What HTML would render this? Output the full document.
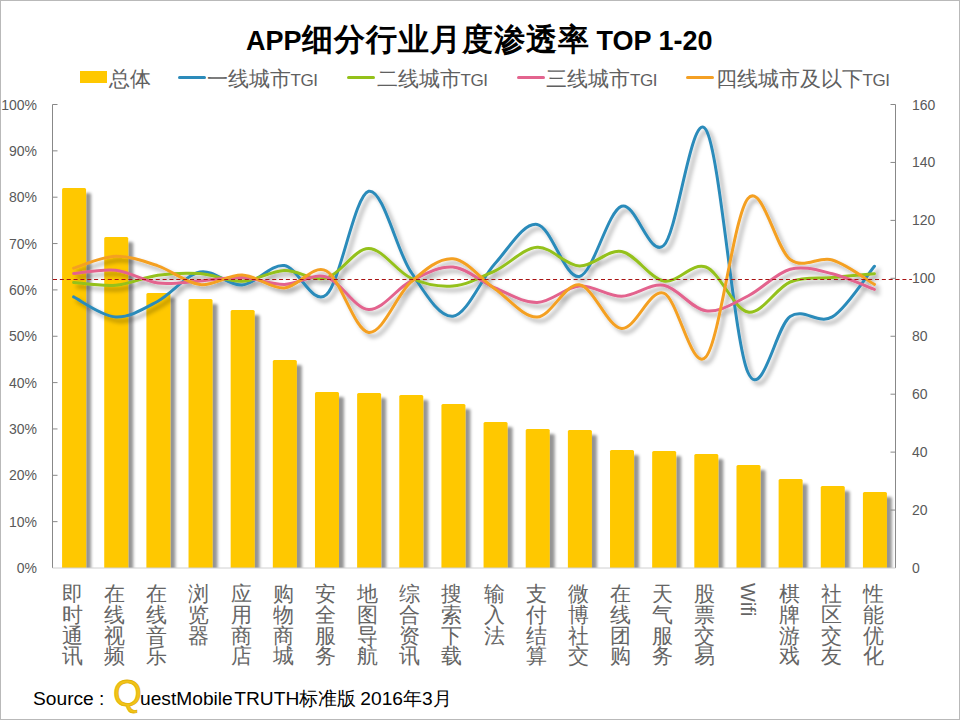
<!DOCTYPE html>
<html><head><meta charset="utf-8">
<style>
html,body{margin:0;padding:0;background:#fff;}
body{width:960px;height:720px;position:relative;overflow:hidden;font-family:"Liberation Sans",sans-serif;}
.frame{position:absolute;left:0;top:0;width:958px;height:718px;border:1px solid #b9b9b9;}
.title{position:absolute;left:246px;top:20px;font-weight:bold;color:#000;white-space:nowrap;line-height:40px;}
.tl{font-size:27px;}
.tc{font-size:31px;letter-spacing:1px;}
.lg{position:absolute;top:65px;font-size:21px;color:#606060;white-space:nowrap;line-height:28px;}
.tg{font-size:17px;letter-spacing:-0.4px;}
.yl{position:absolute;right:923px;font-size:14px;color:#595959;line-height:16px;text-align:right;}
.yr{position:absolute;left:912px;font-size:14px;color:#595959;line-height:16px;}
.xl{position:absolute;top:584px;font-size:20.5px;line-height:20.8px;color:#656565;width:24px;text-align:center;}
.xw{position:absolute;top:583px;font-size:20px;color:#656565;writing-mode:vertical-rl;line-height:24px;font-variant-ligatures:none;}
.src{position:absolute;top:686px;font-size:19.2px;color:#000;white-space:nowrap;line-height:26px;}
.q{color:#F2C318;font-size:37px;line-height:26px;-webkit-text-stroke:0.8px #E0B000;}
svg{position:absolute;left:0;top:0;}
</style></head><body>
<div class="frame"></div>
<svg width="960" height="720" viewBox="0 0 960 720">
<defs>
<filter id="sh" x="-20%" y="-20%" width="140%" height="140%">
<feGaussianBlur in="SourceAlpha" stdDeviation="1.5"/>
<feOffset dx="4.5" dy="4.5" result="o"/>
<feFlood flood-color="#000" flood-opacity="0.42"/>
<feComposite in2="o" operator="in"/>
<feMerge><feMergeNode/><feMergeNode in="SourceGraphic"/></feMerge>
</filter>
<filter id="lsh" x="-20%" y="-20%" width="140%" height="140%">
<feGaussianBlur in="SourceAlpha" stdDeviation="2.2"/>
<feOffset dx="4" dy="4" result="o"/>
<feFlood flood-color="#000" flood-opacity="0.33"/>
<feComposite in2="o" operator="in"/>
<feMerge><feMergeNode/><feMergeNode in="SourceGraphic"/></feMerge>
</filter>
<clipPath id="pc"><rect x="0" y="0" width="960" height="568"/></clipPath>
</defs>
<g clip-path="url(#pc)"><g fill="#FFC800" filter="url(#sh)">
<path d="M62.08,568 V189.5 Q62.08,188 63.58,188 H84.58 Q86.08,188 86.08,189.5 V568 Z"/>
<path d="M104.22,568 V238.5 Q104.22,237 105.72,237 H126.72 Q128.22,237 128.22,238.5 V568 Z"/>
<path d="M146.38,568 V294.5 Q146.38,293 147.88,293 H168.88 Q170.38,293 170.38,294.5 V568 Z"/>
<path d="M188.53,568 V300.5 Q188.53,299 190.03,299 H211.03 Q212.53,299 212.53,300.5 V568 Z"/>
<path d="M230.67,568 V311.5 Q230.67,310 232.17,310 H253.17 Q254.67,310 254.67,311.5 V568 Z"/>
<path d="M272.82,568 V361.5 Q272.82,360 274.32,360 H295.32 Q296.82,360 296.82,361.5 V568 Z"/>
<path d="M314.97,568 V393.5 Q314.97,392 316.47,392 H337.47 Q338.97,392 338.97,393.5 V568 Z"/>
<path d="M357.12,568 V394.5 Q357.12,393 358.62,393 H379.62 Q381.12,393 381.12,394.5 V568 Z"/>
<path d="M399.27,568 V396.5 Q399.27,395 400.77,395 H421.77 Q423.27,395 423.27,396.5 V568 Z"/>
<path d="M441.43,568 V405.5 Q441.43,404 442.93,404 H463.93 Q465.43,404 465.43,405.5 V568 Z"/>
<path d="M483.57,568 V423.5 Q483.57,422 485.07,422 H506.07 Q507.57,422 507.57,423.5 V568 Z"/>
<path d="M525.72,568 V430.5 Q525.72,429 527.22,429 H548.22 Q549.72,429 549.72,430.5 V568 Z"/>
<path d="M567.88,568 V431.5 Q567.88,430 569.38,430 H590.38 Q591.88,430 591.88,431.5 V568 Z"/>
<path d="M610.02,568 V451.5 Q610.02,450 611.52,450 H632.52 Q634.02,450 634.02,451.5 V568 Z"/>
<path d="M652.17,568 V452.5 Q652.17,451 653.67,451 H674.67 Q676.17,451 676.17,452.5 V568 Z"/>
<path d="M694.32,568 V455.5 Q694.32,454 695.82,454 H716.82 Q718.32,454 718.32,455.5 V568 Z"/>
<path d="M736.48,568 V466.5 Q736.48,465 737.98,465 H758.98 Q760.48,465 760.48,466.5 V568 Z"/>
<path d="M778.62,568 V480.5 Q778.62,479 780.12,479 H801.12 Q802.62,479 802.62,480.5 V568 Z"/>
<path d="M820.77,568 V487.5 Q820.77,486 822.27,486 H843.27 Q844.77,486 844.77,487.5 V568 Z"/>
<path d="M862.92,568 V493.5 Q862.92,492 864.42,492 H885.42 Q886.92,492 886.92,493.5 V568 Z"/>
</g></g>
<line x1="52.5" y1="104.5" x2="52.5" y2="568" stroke="#888" stroke-width="1"/>
<line x1="895.5" y1="104.5" x2="895.5" y2="568" stroke="#888" stroke-width="1"/>
<line x1="52.5" y1="568" x2="895.5" y2="568" stroke="#d0d0d0" stroke-width="1"/>
<g stroke="#888" stroke-width="1"><line x1="52.5" y1="521.65" x2="57.5" y2="521.65"/><line x1="52.5" y1="475.30" x2="57.5" y2="475.30"/><line x1="52.5" y1="428.95" x2="57.5" y2="428.95"/><line x1="52.5" y1="382.60" x2="57.5" y2="382.60"/><line x1="52.5" y1="336.25" x2="57.5" y2="336.25"/><line x1="52.5" y1="289.90" x2="57.5" y2="289.90"/><line x1="52.5" y1="243.55" x2="57.5" y2="243.55"/><line x1="52.5" y1="197.20" x2="57.5" y2="197.20"/><line x1="52.5" y1="150.85" x2="57.5" y2="150.85"/><line x1="52.5" y1="104.50" x2="57.5" y2="104.50"/><line x1="890.5" y1="510.06" x2="895.5" y2="510.06"/><line x1="890.5" y1="452.12" x2="895.5" y2="452.12"/><line x1="890.5" y1="394.19" x2="895.5" y2="394.19"/><line x1="890.5" y1="336.25" x2="895.5" y2="336.25"/><line x1="890.5" y1="278.31" x2="895.5" y2="278.31"/><line x1="890.5" y1="220.38" x2="895.5" y2="220.38"/><line x1="890.5" y1="162.44" x2="895.5" y2="162.44"/><line x1="890.5" y1="104.50" x2="895.5" y2="104.50"/></g>
<g fill="none" stroke-width="3" stroke-linecap="round" filter="url(#lsh)">
<path d="M73.58,296.90 C80.60,300.23 101.67,316.17 115.72,316.90 C129.78,317.62 143.82,308.73 157.88,301.25 C171.93,293.77 185.98,274.71 200.03,272.00 C214.07,269.29 228.12,286.07 242.17,285.00 C256.22,283.93 270.27,264.00 284.32,265.60 C298.38,267.20 312.42,306.98 326.47,294.60 C340.52,282.22 354.57,195.12 368.62,191.30 C382.68,187.48 396.72,250.88 410.77,271.70 C424.82,292.52 438.88,317.57 452.93,316.20 C466.98,314.83 481.02,278.80 495.07,263.50 C509.12,248.20 523.17,222.23 537.22,224.40 C551.27,226.57 565.33,279.52 579.38,276.50 C593.42,273.48 607.48,211.42 621.52,206.25 C635.57,201.08 649.62,258.29 663.67,245.50 C677.72,232.71 691.77,108.33 705.82,129.50 C719.88,150.67 733.92,341.33 747.98,372.50 C762.03,403.67 776.08,325.77 790.12,316.50 C804.17,307.23 818.23,325.27 832.27,316.90 C846.32,308.52 867.40,274.69 874.42,266.25" stroke="#2C8BBA"/>
<path d="M73.58,282.50 C80.60,282.96 101.67,286.47 115.72,285.25 C129.78,284.03 143.82,277.14 157.88,275.20 C171.93,273.26 185.98,272.59 200.03,273.60 C214.07,274.61 228.12,281.75 242.17,281.25 C256.22,280.75 270.27,271.14 284.32,270.60 C298.38,270.06 312.42,281.68 326.47,278.00 C340.52,274.32 354.57,248.50 368.62,248.50 C382.68,248.50 396.72,271.75 410.77,278.00 C424.82,284.25 438.88,287.20 452.93,286.00 C466.98,284.80 481.02,277.25 495.07,270.80 C509.12,264.35 523.17,248.10 537.22,247.30 C551.27,246.50 565.33,265.30 579.38,266.00 C593.42,266.70 607.48,249.00 621.52,251.50 C635.57,254.00 649.62,278.42 663.67,281.00 C677.72,283.58 691.77,261.83 705.82,267.00 C719.88,272.17 733.92,309.50 747.98,312.00 C762.03,314.50 776.08,287.75 790.12,282.00 C804.17,276.25 818.23,278.88 832.27,277.50 C846.32,276.12 867.40,274.38 874.42,273.75" stroke="#94C11A"/>
<path d="M73.58,273.50 C80.60,272.96 101.67,268.67 115.72,270.25 C129.78,271.83 143.82,281.21 157.88,283.00 C171.93,284.79 185.98,281.92 200.03,281.00 C214.07,280.08 228.12,276.93 242.17,277.50 C256.22,278.07 270.27,284.48 284.32,284.40 C298.38,284.32 312.42,272.82 326.47,277.00 C340.52,281.18 354.57,308.80 368.62,309.50 C382.68,310.20 396.72,288.28 410.77,281.20 C424.82,274.12 438.88,265.87 452.93,267.00 C466.98,268.13 481.02,282.08 495.07,288.00 C509.12,293.92 523.17,302.83 537.22,302.50 C551.27,302.17 565.33,287.04 579.38,286.00 C593.42,284.96 607.48,296.37 621.52,296.25 C635.57,296.13 649.62,282.88 663.67,285.30 C677.72,287.73 691.77,309.02 705.82,310.80 C719.88,312.58 733.92,302.93 747.98,296.00 C762.03,289.07 776.08,272.91 790.12,269.20 C804.17,265.49 818.23,270.38 832.27,273.75 C846.32,277.12 867.40,286.79 874.42,289.40" stroke="#E3648E"/>
<path d="M73.58,268.10 C80.60,266.13 101.67,256.68 115.72,256.30 C129.78,255.92 143.82,261.08 157.88,265.80 C171.93,270.52 185.98,283.07 200.03,284.60 C214.07,286.13 228.12,274.43 242.17,275.00 C256.22,275.57 270.27,288.67 284.32,288.00 C298.38,287.33 312.42,263.60 326.47,271.00 C340.52,278.40 354.57,330.53 368.62,332.40 C382.68,334.27 396.72,294.48 410.77,282.20 C424.82,269.92 438.88,257.57 452.93,258.70 C466.98,259.83 481.02,279.28 495.07,289.00 C509.12,298.72 523.17,317.70 537.22,317.00 C551.27,316.30 565.33,282.88 579.38,284.80 C593.42,286.72 607.48,327.12 621.52,328.50 C635.57,329.88 649.62,288.35 663.67,293.10 C677.72,297.85 691.77,372.78 705.82,357.00 C719.88,341.22 733.92,214.65 747.98,198.40 C762.03,182.15 776.08,249.23 790.12,259.50 C804.17,269.77 818.23,255.85 832.27,260.00 C846.32,264.15 867.40,280.33 874.42,284.40" stroke="#F4A024"/>

</g>
<line x1="53" y1="279.5" x2="912" y2="279.5" stroke="#A81212" stroke-width="1.1" stroke-dasharray="4,2.85"/>
</svg>
<div class="title"><span class="tl">APP</span><span class="tc">细分行业月度渗透率</span><span class="tl" style="margin-left:7px">TOP 1-20</span></div>
<svg width="960" height="720" style="pointer-events:none">
<rect x="80" y="71" width="27" height="12" fill="#FFC800"/>
<line x1="179.5" y1="77.5" x2="204.5" y2="77.5" stroke="#2C8BBA" stroke-width="3" stroke-linecap="round"/>
<line x1="348.5" y1="77.5" x2="373.5" y2="77.5" stroke="#94C11A" stroke-width="3" stroke-linecap="round"/>
<line x1="518.5" y1="77.5" x2="543.5" y2="77.5" stroke="#E3648E" stroke-width="3" stroke-linecap="round"/>
<line x1="687.5" y1="77.5" x2="712.5" y2="77.5" stroke="#F4A024" stroke-width="3" stroke-linecap="round"/>
</svg>
<div class="lg" style="left:109px">总体</div>
<div class="lg" style="left:206.5px">一线城市<span class="tg">TGI</span></div>
<div class="lg" style="left:376.5px">二线城市<span class="tg">TGI</span></div>
<div class="lg" style="left:546px">三线城市<span class="tg">TGI</span></div>
<div class="lg" style="left:715.5px">四线城市及以下<span class="tg">TGI</span></div>
<div class="yl" style="top:560.0px">0%</div><div class="yl" style="top:513.6px">10%</div><div class="yl" style="top:467.3px">20%</div><div class="yl" style="top:420.9px">30%</div><div class="yl" style="top:374.6px">40%</div><div class="yl" style="top:328.2px">50%</div><div class="yl" style="top:281.9px">60%</div><div class="yl" style="top:235.6px">70%</div><div class="yl" style="top:189.2px">80%</div><div class="yl" style="top:142.8px">90%</div><div class="yl" style="top:96.5px">100%</div>
<div class="yr" style="top:560.0px">0</div><div class="yr" style="top:502.1px">20</div><div class="yr" style="top:444.1px">40</div><div class="yr" style="top:386.2px">60</div><div class="yr" style="top:328.2px">80</div><div class="yr" style="top:270.3px">100</div><div class="yr" style="top:212.4px">120</div><div class="yr" style="top:154.4px">140</div><div class="yr" style="top:96.5px">160</div>
<div class="xl" style="left:60.5px">即<br>时<br>通<br>讯</div><div class="xl" style="left:102.6px">在<br>线<br>视<br>频</div><div class="xl" style="left:144.8px">在<br>线<br>音<br>乐</div><div class="xl" style="left:186.9px">浏<br>览<br>器</div><div class="xl" style="left:229.1px">应<br>用<br>商<br>店</div><div class="xl" style="left:271.2px">购<br>物<br>商<br>城</div><div class="xl" style="left:313.4px">安<br>全<br>服<br>务</div><div class="xl" style="left:355.5px">地<br>图<br>导<br>航</div><div class="xl" style="left:397.7px">综<br>合<br>资<br>讯</div><div class="xl" style="left:439.8px">搜<br>索<br>下<br>载</div><div class="xl" style="left:482.0px">输<br>入<br>法</div><div class="xl" style="left:524.1px">支<br>付<br>结<br>算</div><div class="xl" style="left:566.3px">微<br>博<br>社<br>交</div><div class="xl" style="left:608.4px">在<br>线<br>团<br>购</div><div class="xl" style="left:650.6px">天<br>气<br>服<br>务</div><div class="xl" style="left:692.7px">股<br>票<br>交<br>易</div><div class="xw" style="left:735.5px">Wifi</div><div class="xl" style="left:777.0px">棋<br>牌<br>游<br>戏</div><div class="xl" style="left:819.2px">社<br>区<br>交<br>友</div><div class="xl" style="left:861.3px">性<br>能<br>优<br>化</div>
<div class="src" style="left:33px">Source</div><div class="src" style="left:99px">:</div><div class="src q" style="left:113px;top:681px">Q</div><div class="src" style="left:140px">uestMobile<span style="margin-left:1.5px">TRUTH标准版</span><span style="margin-left:4px">2016年3月</span></div>
</body></html>
